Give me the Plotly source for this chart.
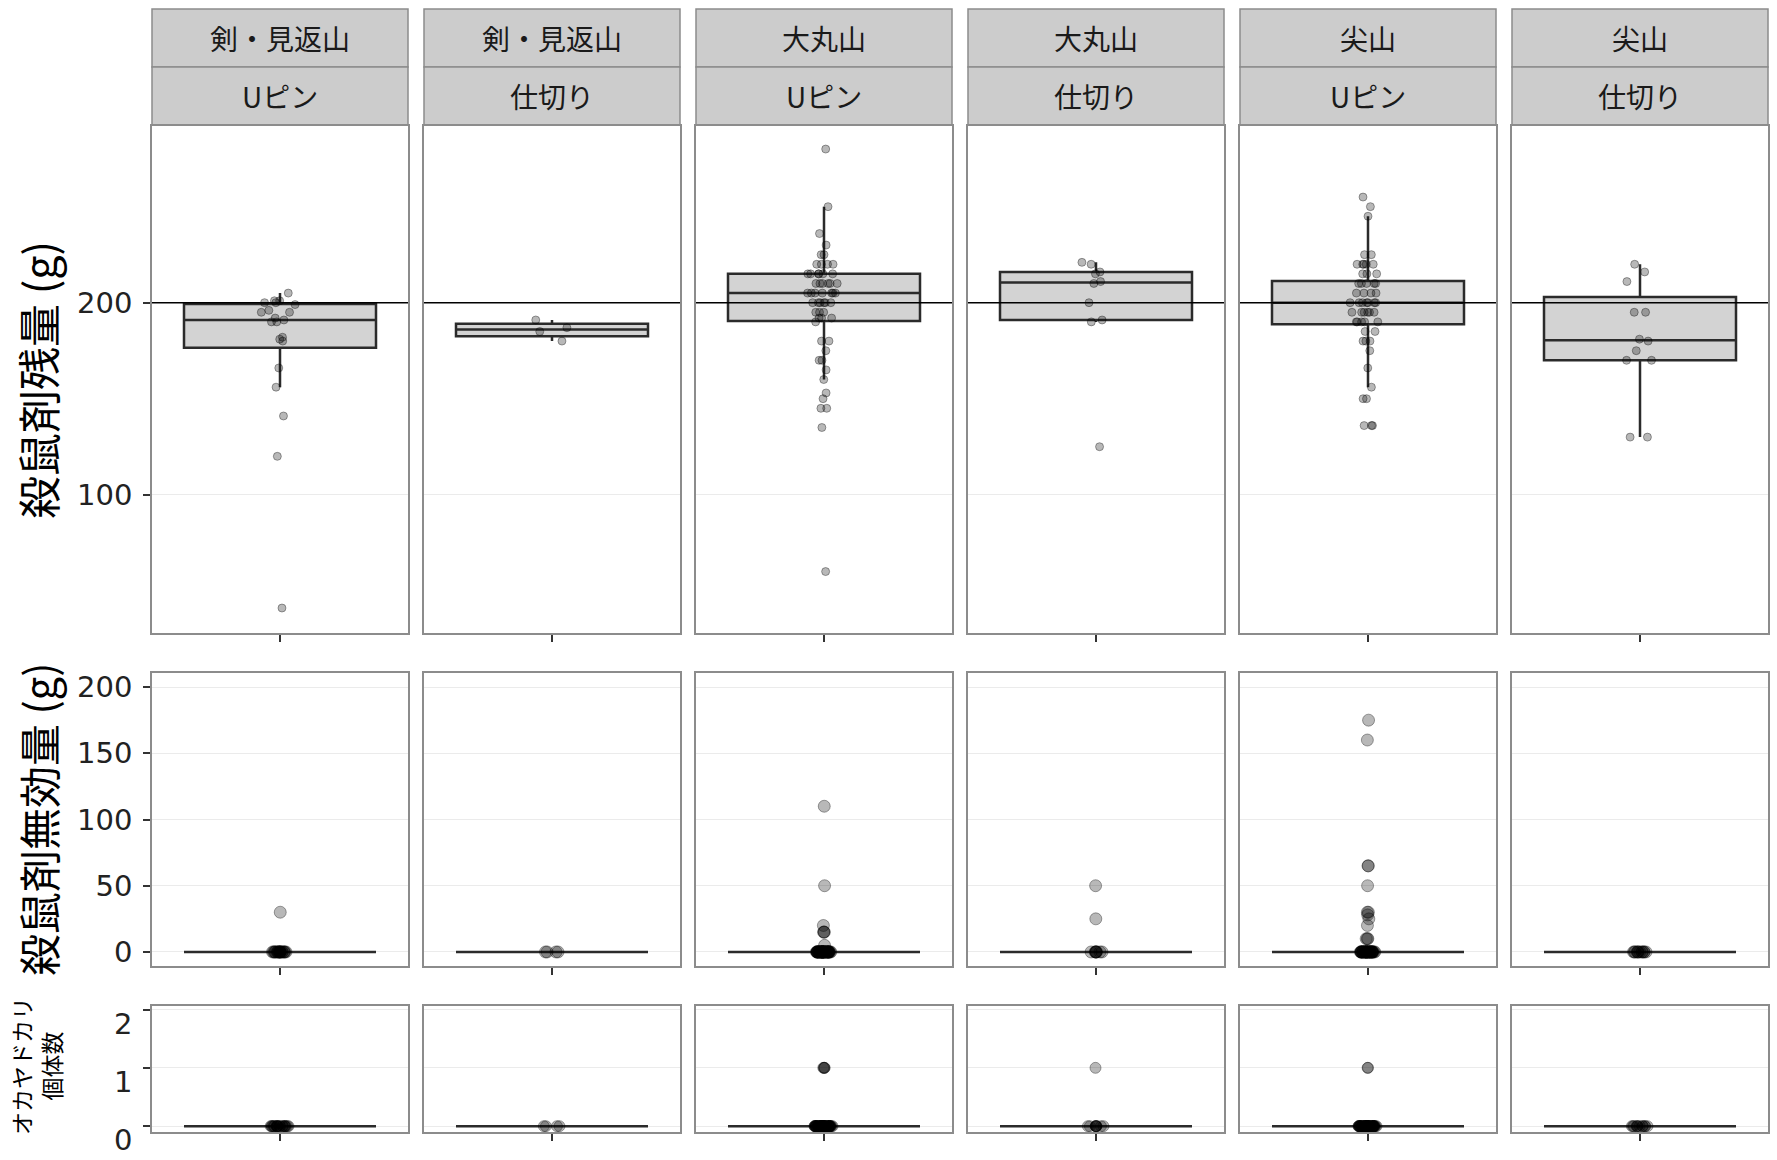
import plotly.graph_objects as go

# ---------------- data ----------------
sites = ["剣・見返山", "剣・見返山", "大丸山", "大丸山", "尖山", "尖山"]
methods = ["Uピン", "仕切り", "Uピン", "仕切り", "Uピン", "仕切り"]

row_titles = ["殺鼠剤残量 (g)", "殺鼠剤無効量 (g)", "オカヤドカリ<br>個体数"]

reference_line = 200

# 殺鼠剤残量 (g)
residual = [
    [41, 120, 141, 156, 166, 180, 181, 182, 190, 190, 191, 192, 195, 195, 196, 199,
     200, 200, 201, 201, 205],
    [180, 185, 187, 191],
    [60, 135, 145, 145, 150, 153, 160, 165, 170, 170, 175, 180, 180, 190,
     192, 192, 192, 195, 195, 195, 200, 200, 200, 200, 200, 200,
     205, 205, 205, 205, 205, 205, 205, 210, 210, 210, 210, 210, 210,
     215, 215, 215, 215, 215, 215, 220, 220, 220, 220, 225, 225, 230, 236, 250, 280],
    [125, 190, 191, 200, 210, 211, 215, 216, 220, 221],
    [136, 136, 136, 150, 150, 156, 166, 175, 180, 180, 180, 185, 185,
     190, 190, 190, 190, 190, 195, 195, 195, 195, 195, 195,
     200, 200, 200, 200, 200, 200, 200, 205, 205, 205, 205,
     210, 210, 210, 210, 210, 215, 215, 215, 220, 220, 220, 220, 220,
     225, 225, 245, 250, 255],
    [130, 130, 170, 170, 175, 180, 181, 195, 195, 211, 216, 220],
]

# 殺鼠剤無効量 (g)
invalid = [
    [30, 0, 0, 0, 0, 0, 0, 0, 0, 0, 0, 0, 0, 0, 0, 0, 0, 0, 0, 0, 0],
    [0, 0, 0, 0],
    [110, 50, 20, 15, 15, 15, 5,
     0, 0, 0, 0, 0, 0, 0, 0, 0, 0, 0, 0, 0, 0, 0, 0, 0, 0, 0, 0, 0, 0, 0, 0,
     0, 0, 0, 0, 0, 0, 0, 0, 0, 0, 0, 0, 0, 0, 0, 0, 0, 0, 0, 0, 0, 0, 0, 0],
    [50, 25, 0, 0, 0, 0, 0, 0, 0, 0],
    [175, 160, 65, 65, 50, 30, 30, 28, 25, 20, 10, 10, 10,
     0, 0, 0, 0, 0, 0, 0, 0, 0, 0, 0, 0, 0, 0, 0, 0, 0, 0, 0, 0, 0,
     0, 0, 0, 0, 0, 0, 0, 0, 0, 0, 0, 0, 0, 0, 0, 0, 0, 0, 0, 0],
    [0, 0, 0, 0, 0, 0, 0, 0, 0, 0, 0, 0],
]

# オカヤドカリ個体数
hermit = [
    [0, 0, 0, 0, 0, 0, 0, 0, 0, 0, 0, 0, 0, 0, 0, 0, 0, 0, 0, 0, 0],
    [0, 0, 0, 0],
    [1, 1, 1, 1,
     0, 0, 0, 0, 0, 0, 0, 0, 0, 0, 0, 0, 0, 0, 0, 0, 0, 0, 0, 0, 0, 0, 0,
     0, 0, 0, 0, 0, 0, 0, 0, 0, 0, 0, 0, 0, 0, 0, 0, 0, 0, 0, 0, 0, 0, 0, 0, 0, 0, 0],
    [1, 0, 0, 0, 0, 0, 0, 0, 0, 0],
    [1, 1,
     0, 0, 0, 0, 0, 0, 0, 0, 0, 0, 0, 0, 0, 0, 0, 0, 0, 0, 0, 0, 0, 0, 0, 0,
     0, 0, 0, 0, 0, 0, 0, 0, 0, 0, 0, 0, 0, 0, 0, 0, 0, 0, 0, 0, 0, 0, 0, 0, 0],
    [0, 0, 0, 0, 0, 0, 0, 0, 0, 0, 0, 0],
]

row_data = [residual, invalid, hermit]
row_ranges = [[28, 292], [-10.6, 210.6], [-0.1, 2.06]]
row_ticks = [[100, 200], [0, 50, 100, 150, 200], [0, 1, 2]]

# ---------------- layout geometry (pixels) ----------------
W, H = 1777, 1160
col_left0, col_pitch, col_w = 152, 272, 256
row_px = [(126, 633), (673, 966), (1006, 1132)]
strip_px = [(9, 67), (67, 125)]
marker_sizes = [8, 12, 11]
jitters = [0.2, 0.08, 0.1]

FONT_NUM = "DejaVu Sans, Noto Sans CJK JP, sans-serif"
FONT_JP = "Noto Sans CJK JP, DejaVu Sans, sans-serif"
BORDER = "#8c8c8c"

fig = go.Figure()
layout = dict(
    width=W, height=H, autosize=False,
    margin=dict(l=0, r=0, t=0, b=0, pad=0, autoexpand=False),
    paper_bgcolor="white", plot_bgcolor="white",
    showlegend=False, boxmode="overlay",
)
shapes = []
annotations = []

for r in range(3):
    top, bottom = row_px[r]
    for c in range(6):
        k = r * 6 + c + 1
        xs = "" if k == 1 else str(k)
        left = col_left0 + col_pitch * c
        right = left + col_w
        fig.add_trace(go.Box(
            y=row_data[r][c], x0=0, width=0.9,
            xaxis="x" + xs, yaxis="y" + xs,
            boxpoints="all", jitter=jitters[r], pointpos=0,
            quartilemethod="linear", whiskerwidth=0,
            fillcolor="#d3d3d3",
            line=dict(color="#2b2b2b", width=2.5),
            marker=dict(size=marker_sizes[r], color="rgba(0,0,0,0.28)",
                        line=dict(color="rgba(0,0,0,0.35)", width=1)),
            hoverinfo="y",
        ))
        layout["xaxis" + xs] = dict(
            domain=[left / W, right / W], anchor="y" + xs,
            range=[-0.6, 0.6], type="linear",
            showgrid=False, zeroline=False,
            showline=True, mirror=True, linecolor=BORDER, linewidth=1.5,
            ticks="outside", tickvals=[0], ticklen=7, tickwidth=1.5,
            tickcolor="#333333", showticklabels=False, fixedrange=True,
        )
        ya = dict(
            domain=[1 - bottom / H, 1 - top / H], anchor="x" + xs,
            range=row_ranges[r], type="linear",
            showgrid=True, gridcolor="#ebebeb", gridwidth=1.3,
            zeroline=False,
            showline=True, mirror=True, linecolor=BORDER, linewidth=1.5,
            tickvals=row_ticks[r], fixedrange=True,
        )
        if c == 0:
            ya.update(ticks="outside", ticklen=7, tickwidth=1.5, tickcolor="#333333",
                      showticklabels=True,
                      tickfont=dict(family=FONT_NUM, size=29, color="#222222"),
                      ticklabelstandoff=5)
            if r == 2:
                ya.update(ticklabelshift=14)
        else:
            ya.update(ticks="", showticklabels=False)
        layout["yaxis" + xs] = ya

        if r == 0:
            shapes.append(dict(
                type="line", xref="x" + xs + " domain", yref="y" + xs,
                x0=0, x1=1, y0=reference_line, y1=reference_line,
                line=dict(color="black", width=1.5), layer="above",
            ))
            for s, (st, sb) in enumerate(strip_px):
                shapes.append(dict(
                    type="rect", xref="paper", yref="paper",
                    x0=left / W, x1=right / W, y0=1 - sb / H, y1=1 - st / H,
                    fillcolor="#cccccc", line=dict(color=BORDER, width=1.5),
                    layer="below",
                ))
                label = sites[c] if s == 0 else methods[c]
                annotations.append(dict(
                    text=label, xref="paper", yref="paper",
                    x=(left + right) / 2 / W, y=1 - (st + sb) / 2 / H,
                    xanchor="center", yanchor="middle", showarrow=False,
                    font=dict(family=FONT_JP, size=28, color="#1a1a1a"),
                ))

# row titles
title_pos = [(37, 380, 43), (37, 819, 42), (36, 1066, 23)]
for r, (tx, ty, fs) in enumerate(title_pos):
    annotations.append(dict(
        text=row_titles[r], xref="paper", yref="paper",
        x=tx / W, y=1 - ty / H, xanchor="center", yanchor="middle",
        textangle=-90, showarrow=False,
        font=dict(family=FONT_JP, size=fs, color="#000000"),
    ))

layout["shapes"] = shapes
layout["annotations"] = annotations
fig.update_layout(**layout)

fig.write_html("out.html", config={"displayModeBar": False})
